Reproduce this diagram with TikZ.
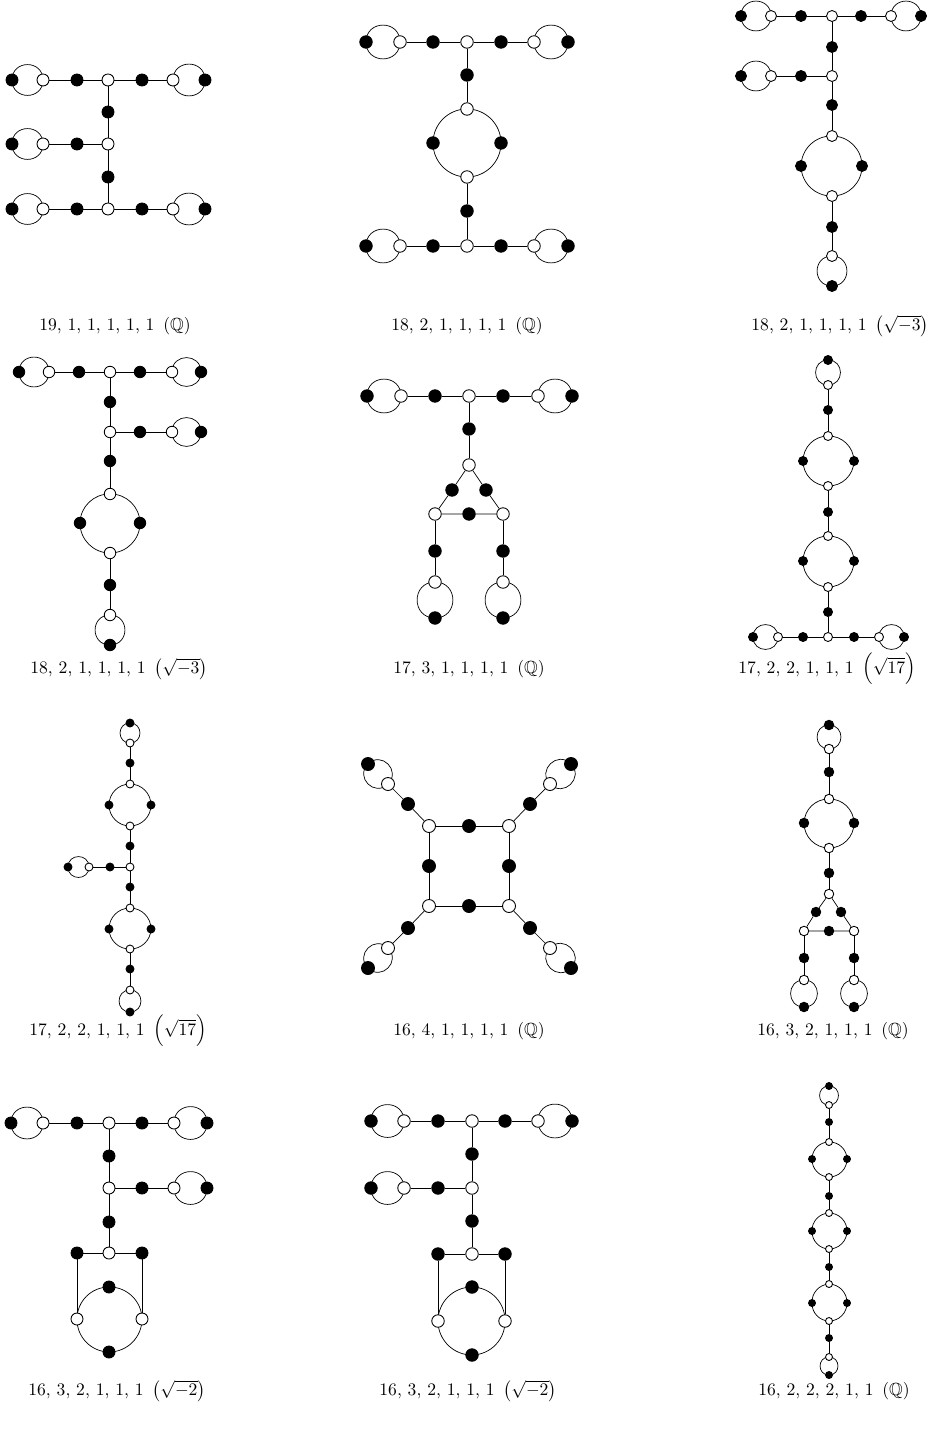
\documentclass[tikz,border=0pt]{standalone}
\usepackage{amsmath,amssymb}
\usepackage{tikz}
\pgfdeclarelayer{fond}
\pgfsetlayers{fond,main}
\tikzset{
  bv/.style={circle, draw, fill=black, inner sep=0pt},
  wv/.style={circle, draw, fill=white, inner sep=0pt},
  boucle/.style={bend left=90, looseness=1.7},
  quart/.style={bend left=45},
  legende/.style={font=\normalsize}
}
\begin{document}
\begin{tikzpicture}[x=0.02cm, y=-0.02cm, line width=0.5pt]
    \useasboundingbox (0,0) rectangle (929,1429);

    % Dessin 1 : 19,1,1,1,1,1
    \begin{scope}[every node/.append style={minimum size=0.24cm}]
        \node[bv] (A1) at (12,80) {}; \node[wv] (A2) at (43,80) {}; \node[bv] (A3) at (77,80) {};
        \node[wv] (A4) at (108,80) {}; \node[bv] (A5) at (142,80) {}; \node[wv] (A6) at (173,80) {};
        \node[bv] (A7) at (205,80) {};
        \node[bv] (A8) at (108,112) {};
        \node[bv] (A9) at (12,144) {}; \node[wv] (A10) at (43,144) {}; \node[bv] (A11) at (77,144) {};
        \node[wv] (A12) at (108,144) {};
        \node[bv] (A13) at (108,177) {};
        \node[bv] (A14) at (12,209) {}; \node[wv] (A15) at (43,209) {}; \node[bv] (A16) at (77,209) {};
        \node[wv] (A17) at (108,209) {}; \node[bv] (A18) at (142,209) {}; \node[wv] (A19) at (173,209) {};
        \node[bv] (A20) at (205,209) {};
        \begin{pgfonlayer}{fond}
            \draw (A2) -- (A3) -- (A4) -- (A5) -- (A6);
            \draw (A4) -- (A8) -- (A12) -- (A13) -- (A17);
            \draw (A10) -- (A11) -- (A12);
            \draw (A15) -- (A16) -- (A17) -- (A18) -- (A19);
            \draw (A2.center) to[boucle] (A1.center) to[boucle] (A2.center);
            \draw (A6.center) to[boucle] (A7.center) to[boucle] (A6.center);
            \draw (A10.center) to[boucle] (A9.center) to[boucle] (A10.center);
            \draw (A15.center) to[boucle] (A14.center) to[boucle] (A15.center);
            \draw (A19.center) to[boucle] (A20.center) to[boucle] (A19.center);
        \end{pgfonlayer}
    \end{scope}

    % Dessin 2 : 18,2,1,1,1,1 (Q)
    \begin{scope}[every node/.append style={minimum size=0.25cm}]
        \node[bv] (B1) at (366,42) {}; \node[wv] (B2) at (400,42) {}; \node[bv] (B3) at (433,42) {};
        \node[wv] (B4) at (467,42) {}; \node[bv] (B5) at (501,42) {}; \node[wv] (B6) at (534,42) {};
        \node[bv] (B7) at (568,42) {};
        \node[bv] (B8) at (467,75) {};
        \node[wv] (B9) at (467,109) {}; \node[bv] (B10) at (433,143) {};
        \node[bv] (B11) at (501,143) {}; \node[wv] (B12) at (467,177) {};
        \node[bv] (B13) at (467,211) {};
        \node[bv] (B14) at (366,246) {}; \node[wv] (B15) at (400,246) {}; \node[bv] (B16) at (433,246) {};
        \node[wv] (B17) at (467,246) {}; \node[bv] (B18) at (501,246) {}; \node[wv] (B19) at (534,246) {};
        \node[bv] (B20) at (568,246) {};
        \begin{pgfonlayer}{fond}
            \draw (B2) -- (B3) -- (B4) -- (B5) -- (B6);
            \draw (B4) -- (B8) -- (B9);
            \draw (B12) -- (B13) -- (B17);
            \draw (B15) -- (B16) -- (B17) -- (B18) -- (B19);
            \draw (B9.center) to[quart] (B11.center) to[quart] (B12.center) to[quart] (B10.center) to[quart] (B9.center);
            \draw (B2.center) to[boucle] (B1.center) to[boucle] (B2.center);
            \draw (B6.center) to[boucle] (B7.center) to[boucle] (B6.center);
            \draw (B15.center) to[boucle] (B14.center) to[boucle] (B15.center);
            \draw (B19.center) to[boucle] (B20.center) to[boucle] (B19.center);
        \end{pgfonlayer}
    \end{scope}

    % Dessin 3 : 18,2,1,1,1,1 (sqrt -3)
    \begin{scope}[every node/.append style={minimum size=0.22cm}]
        \node[bv] (C1) at (741,16) {}; \node[wv] (C2) at (771,16) {}; \node[bv] (C3) at (801,16) {};
        \node[wv] (C4) at (832,16) {}; \node[bv] (C5) at (861,16) {}; \node[wv] (C6) at (891,16) {};
        \node[bv] (C7) at (921,16) {};
        \node[bv] (C8) at (832,47) {};
        \node[bv] (C9) at (741,76) {}; \node[wv] (C10) at (771,76) {}; \node[bv] (C11) at (801,76) {};
        \node[wv] (C12) at (832,76) {};
        \node[bv] (C13) at (832,105) {};
        \node[wv] (C14) at (832,136) {}; \node[bv] (C15) at (801,166) {};
        \node[bv] (C16) at (862,166) {}; \node[wv] (C17) at (832,196) {};
        \node[bv] (C18) at (832,227) {};
        \node[wv] (C19) at (832,256) {}; \node[bv] (C20) at (832,286) {};
        \begin{pgfonlayer}{fond}
            \draw (C2) -- (C3) -- (C4) -- (C5) -- (C6);
            \draw (C4) -- (C8) -- (C12) -- (C13) -- (C14);
            \draw (C10) -- (C11) -- (C12);
            \draw (C17) -- (C18) -- (C19);
            \draw (C14.center) to[quart] (C16.center) to[quart] (C17.center) to[quart] (C15.center) to[quart] (C14.center);
            \draw (C2.center) to[boucle] (C1.center) to[boucle] (C2.center);
            \draw (C6.center) to[boucle] (C7.center) to[boucle] (C6.center);
            \draw (C10.center) to[boucle] (C9.center) to[boucle] (C10.center);
            \draw (C19.center) to[boucle] (C20.center) to[boucle] (C19.center);
        \end{pgfonlayer}
    \end{scope}

    % Dessin 4 : 18,2,1,1,1,1 (sqrt -3)
    \begin{scope}[every node/.append style={minimum size=0.23cm}]
        \node[bv] (D1) at (19,372) {}; \node[wv] (D2) at (49,372) {}; \node[bv] (D3) at (79,372) {};
        \node[wv] (D4) at (110,372) {}; \node[bv] (D5) at (140,372) {}; \node[wv] (D6) at (172,372) {};
        \node[bv] (D7) at (201,372) {};
        \node[bv] (D8) at (110,402) {};
        \node[wv] (D9) at (110,432) {}; \node[bv] (D10) at (140,432) {}; \node[wv] (D11) at (172,432) {};
        \node[bv] (D12) at (201,432) {};
        \node[bv] (D13) at (110,461) {};
        \node[wv] (D14) at (110,494) {}; \node[bv] (D15) at (80,523) {};
        \node[bv] (D16) at (140,523) {}; \node[wv] (D17) at (110,553) {};
        \node[bv] (D18) at (110,585) {};
        \node[wv] (D19) at (110,615) {}; \node[bv] (D20) at (110,645) {};
        \begin{pgfonlayer}{fond}
            \draw (D2) -- (D3) -- (D4) -- (D5) -- (D6);
            \draw (D4) -- (D8) -- (D9) -- (D13) -- (D14);
            \draw (D9) -- (D10) -- (D11);
            \draw (D17) -- (D18) -- (D19);
            \draw (D14.center) to[quart] (D16.center) to[quart] (D17.center) to[quart] (D15.center) to[quart] (D14.center);
            \draw (D2.center) to[boucle] (D1.center) to[boucle] (D2.center);
            \draw (D6.center) to[boucle] (D7.center) to[boucle] (D6.center);
            \draw (D11.center) to[boucle] (D12.center) to[boucle] (D11.center);
            \draw (D19.center) to[boucle] (D20.center) to[boucle] (D19.center);
        \end{pgfonlayer}
    \end{scope}

    % Dessin 5 : 17,3,1,1,1,1
    \begin{scope}[every node/.append style={minimum size=0.25cm}]
        \node[bv] (E1) at (367,396) {}; \node[wv] (E2) at (401,396) {}; \node[bv] (E3) at (435,396) {};
        \node[wv] (E4) at (469,396) {}; \node[bv] (E5) at (503,396) {}; \node[wv] (E6) at (538,396) {};
        \node[bv] (E7) at (572,396) {};
        \node[bv] (E8) at (469,429) {};
        \node[wv] (E9) at (469,465) {};
        \node[bv] (E10) at (452,490) {}; \node[bv] (E11) at (486,490) {};
        \node[wv] (E12) at (435,514) {}; \node[bv] (E13) at (469,514) {}; \node[wv] (E14) at (503,514) {};
        \node[bv] (E15) at (435,551) {}; \node[bv] (E16) at (503,551) {};
        \node[wv] (E17) at (435,582) {}; \node[wv] (E18) at (503,582) {};
        \node[bv] (E19) at (435,618) {}; \node[bv] (E20) at (503,618) {};
        \begin{pgfonlayer}{fond}
            \draw (E2) -- (E3) -- (E4) -- (E5) -- (E6);
            \draw (E4) -- (E8) -- (E9);
            \draw (E9) -- (E10) -- (E12) -- (E13) -- (E14) -- (E11) -- (E9);
            \draw (E12) -- (E15) -- (E17);
            \draw (E14) -- (E16) -- (E18);
            \draw (E2.center) to[boucle] (E1.center) to[boucle] (E2.center);
            \draw (E6.center) to[boucle] (E7.center) to[boucle] (E6.center);
            \draw (E17.center) to[boucle] (E19.center) to[boucle] (E17.center);
            \draw (E18.center) to[boucle] (E20.center) to[boucle] (E18.center);
        \end{pgfonlayer}
    \end{scope}

    % Dessin 6 : 17,2,2,1,1,1
    \begin{scope}[every node/.append style={minimum size=0.18cm}]
        \node[bv] (F1) at (828,360) {}; \node[wv] (F2) at (828,385) {};
        \node[bv] (F3) at (828,410) {};
        \node[wv] (F4) at (828,436) {}; \node[bv] (F5) at (803,461) {};
        \node[bv] (F6) at (854,461) {}; \node[wv] (F7) at (828,486) {};
        \node[bv] (F8) at (828,512) {};
        \node[wv] (F9) at (828,536) {}; \node[bv] (F10) at (803,561) {};
        \node[bv] (F11) at (854,561) {}; \node[wv] (F12) at (828,587) {};
        \node[bv] (F13) at (828,612) {};
        \node[bv] (F14) at (753,637) {}; \node[wv] (F15) at (778,637) {}; \node[bv] (F16) at (803,637) {};
        \node[wv] (F17) at (828,637) {}; \node[bv] (F18) at (854,637) {}; \node[wv] (F19) at (879,637) {};
        \node[bv] (F20) at (904,637) {};
        \begin{pgfonlayer}{fond}
            \draw (F2) -- (F3) -- (F4);
            \draw (F7) -- (F8) -- (F9);
            \draw (F12) -- (F13) -- (F17);
            \draw (F15) -- (F16) -- (F17) -- (F18) -- (F19);
            \draw (F4.center) to[quart] (F6.center) to[quart] (F7.center) to[quart] (F5.center) to[quart] (F4.center);
            \draw (F9.center) to[quart] (F11.center) to[quart] (F12.center) to[quart] (F10.center) to[quart] (F9.center);
            \draw (F2.center) to[boucle] (F1.center) to[boucle] (F2.center);
            \draw (F15.center) to[boucle] (F14.center) to[boucle] (F15.center);
            \draw (F19.center) to[boucle] (F20.center) to[boucle] (F19.center);
        \end{pgfonlayer}
    \end{scope}

    % Dessin 7 : 17,2,2,1,1,1
    \begin{scope}[every node/.append style={minimum size=0.16cm}]
        \node[bv] (G1) at (130,723) {}; \node[wv] (G2) at (130,743) {};
        \node[bv] (G3) at (130,763) {};
        \node[wv] (G4) at (130,784) {}; \node[bv] (G5) at (109,805) {};
        \node[bv] (G6) at (151,805) {}; \node[wv] (G7) at (130,826) {};
        \node[bv] (G8) at (130,846) {};
        \node[wv] (G9) at (130,867) {}; \node[bv] (G10) at (110,867) {};
        \node[wv] (G11) at (89,867) {}; \node[bv] (G12) at (68,867) {};
        \node[bv] (G13) at (130,887) {};
        \node[wv] (G14) at (130,908) {}; \node[bv] (G15) at (109,929) {};
        \node[bv] (G16) at (151,929) {}; \node[wv] (G17) at (130,949) {};
        \node[bv] (G18) at (130,969) {};
        \node[wv] (G19) at (130,990) {}; \node[bv] (G20) at (130,1012) {};
        \begin{pgfonlayer}{fond}
            \draw (G2) -- (G3) -- (G4);
            \draw (G7) -- (G8) -- (G9) -- (G13) -- (G14);
            \draw (G9) -- (G10) -- (G11);
            \draw (G17) -- (G18) -- (G19);
            \draw (G4.center) to[quart] (G6.center) to[quart] (G7.center) to[quart] (G5.center) to[quart] (G4.center);
            \draw (G14.center) to[quart] (G16.center) to[quart] (G17.center) to[quart] (G15.center) to[quart] (G14.center);
            \draw (G2.center) to[boucle] (G1.center) to[boucle] (G2.center);
            \draw (G11.center) to[boucle] (G12.center) to[boucle] (G11.center);
            \draw (G19.center) to[boucle] (G20.center) to[boucle] (G19.center);
        \end{pgfonlayer}
    \end{scope}

    % Dessin 8 : 16,4,1,1,1,1
    \begin{scope}[every node/.append style={minimum size=0.26cm}]
        \node[wv] (H1) at (429,826) {}; \node[bv] (H2) at (469,826) {}; \node[wv] (H3) at (509,826) {};
        \node[bv] (H4) at (509,866) {}; \node[wv] (H5) at (509,906) {}; \node[bv] (H6) at (469,906) {};
        \node[wv] (H7) at (429,906) {}; \node[bv] (H8) at (429,866) {};
        \node[bv] (H9) at (408,804) {}; \node[wv] (H10) at (388,784) {}; \node[bv] (H11) at (368,764) {};
        \node[bv] (H12) at (530,804) {}; \node[wv] (H13) at (550,784) {}; \node[bv] (H14) at (571,764) {};
        \node[bv] (H15) at (408,928) {}; \node[wv] (H16) at (388,948) {}; \node[bv] (H17) at (368,968) {};
        \node[bv] (H18) at (530,928) {}; \node[wv] (H19) at (550,948) {}; \node[bv] (H20) at (571,968) {};
        \begin{pgfonlayer}{fond}
            \draw (H1) -- (H2) -- (H3) -- (H4) -- (H5) -- (H6) -- (H7) -- (H8) -- (H1);
            \draw (H1) -- (H9) -- (H10);
            \draw (H3) -- (H12) -- (H13);
            \draw (H7) -- (H15) -- (H16);
            \draw (H5) -- (H18) -- (H19);
            \draw (H10.center) to[boucle] (H11.center) to[boucle] (H10.center);
            \draw (H13.center) to[boucle] (H14.center) to[boucle] (H13.center);
            \draw (H16.center) to[boucle] (H17.center) to[boucle] (H16.center);
            \draw (H19.center) to[boucle] (H20.center) to[boucle] (H19.center);
        \end{pgfonlayer}
    \end{scope}

    % Dessin 9 : 16,3,2,1,1,1
    \begin{scope}[every node/.append style={minimum size=0.19cm}]
        \node[bv] (I1) at (829,725) {}; \node[wv] (I2) at (829,749) {};
        \node[bv] (I3) at (829,772) {};
        \node[wv] (I4) at (829,799) {}; \node[bv] (I5) at (804,823) {};
        \node[bv] (I6) at (854,823) {}; \node[wv] (I7) at (829,848) {};
        \node[bv] (I8) at (829,873) {};
        \node[wv] (I9) at (829,894) {};
        \node[bv] (I10) at (816,912) {}; \node[bv] (I11) at (841,912) {};
        \node[wv] (I12) at (804,931) {}; \node[bv] (I13) at (829,931) {}; \node[wv] (I14) at (854,931) {};
        \node[bv] (I15) at (804,958) {}; \node[bv] (I16) at (854,958) {};
        \node[wv] (I17) at (804,980) {}; \node[wv] (I18) at (854,980) {};
        \node[bv] (I19) at (804,1007) {}; \node[bv] (I20) at (854,1007) {};
        \begin{pgfonlayer}{fond}
            \draw (I2) -- (I3) -- (I4);
            \draw (I7) -- (I8) -- (I9);
            \draw (I9) -- (I10) -- (I12) -- (I13) -- (I14) -- (I11) -- (I9);
            \draw (I12) -- (I15) -- (I17);
            \draw (I14) -- (I16) -- (I18);
            \draw (I4.center) to[quart] (I6.center) to[quart] (I7.center) to[quart] (I5.center) to[quart] (I4.center);
            \draw (I2.center) to[boucle] (I1.center) to[boucle] (I2.center);
            \draw (I17.center) to[boucle] (I19.center) to[boucle] (I17.center);
            \draw (I18.center) to[boucle] (I20.center) to[boucle] (I18.center);
        \end{pgfonlayer}
    \end{scope}

    % Dessin 10 : 16,3,2,1,1,1 (sqrt -2)
    \begin{scope}[every node/.append style={minimum size=0.24cm}]
        \node[bv] (J1) at (11,1123) {}; \node[wv] (J2) at (43,1123) {}; \node[bv] (J3) at (77,1123) {};
        \node[wv] (J4) at (109,1123) {}; \node[bv] (J5) at (142,1123) {}; \node[wv] (J6) at (174,1123) {};
        \node[bv] (J7) at (207,1123) {};
        \node[bv] (J8) at (109,1156) {};
        \node[wv] (J9) at (109,1188) {}; \node[bv] (J10) at (142,1188) {}; \node[wv] (J11) at (174,1188) {};
        \node[bv] (J12) at (207,1188) {};
        \node[bv] (J13) at (109,1222) {};
        \node[bv] (J14) at (77,1253) {}; \node[wv] (J15) at (109,1253) {}; \node[bv] (J16) at (142,1253) {};
        \node[bv] (J17) at (109,1287) {}; \node[wv] (J18) at (142,1319) {};
        \node[bv] (J19) at (109,1352) {}; \node[wv] (J20) at (77,1319) {};
        \begin{pgfonlayer}{fond}
            \draw (J2) -- (J3) -- (J4) -- (J5) -- (J6);
            \draw (J4) -- (J8) -- (J9) -- (J13) -- (J15);
            \draw (J9) -- (J10) -- (J11);
            \draw (J20) -- (J14) -- (J15) -- (J16) -- (J18);
            \draw (J17.center) to[quart] (J18.center) to[quart] (J19.center) to[quart] (J20.center) to[quart] (J17.center);
            \draw (J2.center) to[boucle] (J1.center) to[boucle] (J2.center);
            \draw (J6.center) to[boucle] (J7.center) to[boucle] (J6.center);
            \draw (J11.center) to[boucle] (J12.center) to[boucle] (J11.center);
        \end{pgfonlayer}
    \end{scope}

    % Dessin 11 : 16,3,2,1,1,1 (sqrt -2)
    \begin{scope}[every node/.append style={minimum size=0.25cm}]
        \node[bv] (K1) at (371,1121) {}; \node[wv] (K2) at (404,1121) {}; \node[bv] (K3) at (438,1121) {};
        \node[wv] (K4) at (472,1121) {}; \node[bv] (K5) at (505,1121) {}; \node[wv] (K6) at (538,1121) {};
        \node[bv] (K7) at (572,1121) {};
        \node[bv] (K8) at (472,1154) {};
        \node[bv] (K9) at (371,1188) {}; \node[wv] (K10) at (404,1188) {}; \node[bv] (K11) at (438,1188) {};
        \node[wv] (K12) at (472,1188) {};
        \node[bv] (K13) at (472,1221) {};
        \node[bv] (K14) at (438,1254) {}; \node[wv] (K15) at (472,1254) {}; \node[bv] (K16) at (505,1254) {};
        \node[bv] (K17) at (472,1287) {}; \node[wv] (K18) at (505,1321) {};
        \node[bv] (K19) at (472,1355) {}; \node[wv] (K20) at (438,1321) {};
        \begin{pgfonlayer}{fond}
            \draw (K2) -- (K3) -- (K4) -- (K5) -- (K6);
            \draw (K4) -- (K8) -- (K12) -- (K13) -- (K15);
            \draw (K10) -- (K11) -- (K12);
            \draw (K20) -- (K14) -- (K15) -- (K16) -- (K18);
            \draw (K17.center) to[quart] (K18.center) to[quart] (K19.center) to[quart] (K20.center) to[quart] (K17.center);
            \draw (K2.center) to[boucle] (K1.center) to[boucle] (K2.center);
            \draw (K6.center) to[boucle] (K7.center) to[boucle] (K6.center);
            \draw (K10.center) to[boucle] (K9.center) to[boucle] (K10.center);
        \end{pgfonlayer}
    \end{scope}

    % Dessin 12 : 16,2,2,2,1,1
    \begin{scope}[every node/.append style={minimum size=0.14cm}]
        \node[bv] (L1) at (829,1086) {}; \node[wv] (L2) at (829,1105) {};
        \node[bv] (L3) at (829,1122) {};
        \node[wv] (L4) at (829,1142) {}; \node[bv] (L5) at (812,1159) {};
        \node[bv] (L6) at (847,1159) {}; \node[wv] (L7) at (829,1177) {};
        \node[bv] (L8) at (829,1196) {};
        \node[wv] (L9) at (829,1213) {}; \node[bv] (L10) at (812,1231) {};
        \node[bv] (L11) at (847,1231) {}; \node[wv] (L12) at (829,1249) {};
        \node[bv] (L13) at (829,1267) {};
        \node[wv] (L14) at (829,1284) {}; \node[bv] (L15) at (812,1303) {};
        \node[bv] (L16) at (847,1303) {}; \node[wv] (L17) at (829,1321) {};
        \node[bv] (L18) at (829,1338) {};
        \node[wv] (L19) at (829,1357) {}; \node[bv] (L20) at (829,1375) {};
        \begin{pgfonlayer}{fond}
            \draw (L2) -- (L3) -- (L4);
            \draw (L7) -- (L8) -- (L9);
            \draw (L12) -- (L13) -- (L14);
            \draw (L17) -- (L18) -- (L19);
            \draw (L4.center) to[quart] (L6.center) to[quart] (L7.center) to[quart] (L5.center) to[quart] (L4.center);
            \draw (L9.center) to[quart] (L11.center) to[quart] (L12.center) to[quart] (L10.center) to[quart] (L9.center);
            \draw (L14.center) to[quart] (L16.center) to[quart] (L17.center) to[quart] (L15.center) to[quart] (L14.center);
            \draw (L2.center) to[boucle] (L1.center) to[boucle] (L2.center);
            \draw (L19.center) to[boucle] (L20.center) to[boucle] (L19.center);
        \end{pgfonlayer}
    \end{scope}

    % Legendes
    \node[legende] (T1) at (115,326) {19, 1, 1, 1, 1, 1\enspace($\mathbb{Q}$)};
    \node[legende] (T2) at (467,326) {18, 2, 1, 1, 1, 1\enspace($\mathbb{Q}$)};
    \node[legende] (T3) at (840,326) {18, 2, 1, 1, 1, 1\enspace$\bigl(\sqrt{-3}\bigr)$};
    \node[legende] (T4) at (119,669) {18, 2, 1, 1, 1, 1\enspace$\bigl(\sqrt{-3}\bigr)$};
    \node[legende] (T5) at (469,669) {17, 3, 1, 1, 1, 1\enspace($\mathbb{Q}$)};
    \node[legende] (T6) at (827,669) {17, 2, 2, 1, 1, 1\enspace$\Bigl(\sqrt{17}\Bigr)$};
    \node[legende] (T7) at (118,1031) {17, 2, 2, 1, 1, 1\enspace$\Bigl(\sqrt{17}\Bigr)$};
    \node[legende] (T8) at (469,1031) {16, 4, 1, 1, 1, 1\enspace($\mathbb{Q}$)};
    \node[legende] (T9) at (833,1031) {16, 3, 2, 1, 1, 1\enspace($\mathbb{Q}$)};
    \node[legende] (T10) at (117,1391) {16, 3, 2, 1, 1, 1\enspace$\bigl(\sqrt{-2}\bigr)$};
    \node[legende] (T11) at (468,1391) {16, 3, 2, 1, 1, 1\enspace$\bigl(\sqrt{-2}\bigr)$};
    \node[legende] (T12) at (834,1391) {16, 2, 2, 2, 1, 1\enspace($\mathbb{Q}$)};
\end{tikzpicture}
\end{document}
